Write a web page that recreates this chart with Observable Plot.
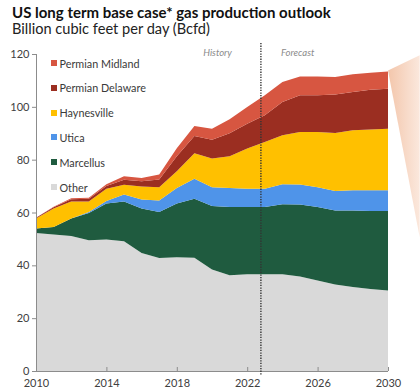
<!DOCTYPE html>
<html>
<head>
<meta charset="utf-8">
<script src="https://cdn.jsdelivr.net/npm/d3@7"></script>
<script src="https://cdn.jsdelivr.net/npm/@observablehq/plot@0.6"></script>
<style>
  body { margin: 0; background: #fff; font-family: Lato, "Open Sans", sans-serif; }
  #wrap { position: relative; width: 420px; height: 392px; overflow: hidden; }
  #title { position: absolute; left: 12px; top: 3px; font-weight: 700; font-size: 15px; color: #111; white-space: nowrap; }
  #subtitle { position: absolute; left: 12px; top: 20px; font-size: 14.6px; color: #222; white-space: nowrap; }
  #chart { position: absolute; left: 0; top: 38px; }
  .item { position: absolute; left: 51px; height: 12px; display: flex; align-items: center; font-size: 10.8px; color: #3a3a3a; white-space: nowrap; }
  .item span.sw { width: 6px; height: 6px; margin-right: 2.5px; display: inline-block; }
</style>
</head>
<body>
<div id="wrap">
  <div id="title">US long term base case* gas production outlook</div>
  <div id="subtitle">Billion cubic feet per day (Bcfd)</div>
  <div id="chart"></div>
  <div id="legend"></div>
</div>
<script>
// Annual gas production by basin, Bcfd (2010–2022 history, 2023–2030 forecast)
const years = [2010, 2011, 2012, 2013, 2014, 2015, 2016, 2017, 2018, 2019, 2020,
               2021, 2022, 2023, 2024, 2025, 2026, 2027, 2028, 2029, 2030];

const other      = [52.2, 51.7, 51.1, 49.5, 49.8, 49.1, 44.7, 42.8, 43.1, 42.9, 38.4,
                    36.2, 36.6, 36.6, 36.6, 35.8, 34.3, 32.7, 31.8, 31.0, 30.5];
const marcellus  = [1.7, 2.8, 6.6, 10.3, 13.6, 15.1, 16.8, 17.4, 20.3, 22.3, 24.1,
                    25.9, 25.5, 25.5, 26.5, 27.2, 27.8, 28.1, 29.0, 29.6, 30.1];
const utica      = [0.0, 0.0, 0.0, 0.4, 1.0, 2.6, 3.4, 4.3, 5.9, 7.6, 7.1,
                    7.2, 6.9, 6.9, 7.6, 7.6, 7.5, 7.3, 7.6, 7.8, 7.8];
const haynesville = [3.8, 7.0, 6.5, 4.0, 4.6, 3.7, 4.9, 5.1, 6.3, 9.6, 10.8,
                    12.0, 15.2, 17.7, 18.5, 19.9, 20.9, 22.0, 22.7, 23.0, 23.3];
const delaware   = [0.3, 0.5, 0.8, 1.0, 1.0, 1.9, 2.0, 2.9, 5.7, 6.6, 7.1,
                    8.7, 9.4, 10.1, 12.6, 13.9, 13.9, 14.6, 14.5, 15.1, 15.1];
const midland    = [0.0, 0.2, 0.4, 0.4, 0.7, 1.3, 1.3, 1.9, 3.0, 3.7, 4.2,
                    5.3, 6.3, 7.6, 7.6, 7.1, 7.1, 6.6, 6.7, 6.4, 6.6];

// stacked bottom to top
const seriesNames = ["Other", "Marcellus", "Utica", "Haynesville", "Permian Delaware", "Permian Midland"];
const seriesValues = [other, marcellus, utica, haynesville, delaware, midland];
const seriesColors = ["#d9d9d9", "#1f5b3f", "#4f94e9", "#ffc000", "#9b2e21", "#d75641"];

const yTicks = [0, 20, 40, 60, 80, 100, 120];
const xTicks = [2010, 2014, 2018, 2022, 2026, 2030];

// history / forecast boundary (late 2022)
const divider = 2022.75;

// wedge pointing to the detail panel on the right
const callout = [
  {x: 2030, y1: 113.8, y2: 113.8},
  {x: 2031.8, y1: 50.6, y2: 119.5}
];

const rows = [];
seriesNames.forEach((name, i) => {
  years.forEach((yr, j) => rows.push({year: yr, basin: name, value: seriesValues[i][j]}));
});

const defs = () => {
  const svgNS = "http://www.w3.org/2000/svg";
  const d = document.createElementNS(svgNS, "defs");
  d.innerHTML = `<linearGradient id="wedge" x1="0" x2="1" y1="0" y2="0">
      <stop offset="0" stop-color="#f3c6ab"/>
      <stop offset="1" stop-color="#fbe8dd"/>
    </linearGradient>`;
  return d;
};

const chart = Plot.plot({
  width: 420,
  height: 354,
  marginLeft: 36,
  marginRight: 32,
  marginTop: 16,
  marginBottom: 21,
  style: {fontFamily: "Lato, 'Open Sans', sans-serif", fontSize: "11px", color: "#404040", overflow: "visible"},
  x: {domain: [2010, 2030]},
  y: {domain: [0, 120]},
  color: {domain: seriesNames, range: seriesColors},
  marks: [
    defs,
    Plot.areaY(callout, {x: "x", y1: "y1", y2: "y2", fill: "url(#wedge)"}),
    Plot.areaY(rows, {x: "year", y: "value", z: "basin", fill: "basin", order: seriesNames}),
    Plot.ruleY([0], {stroke: "#8c8c8c", strokeWidth: 1}),
    Plot.ruleX([2010], {stroke: "#8c8c8c", strokeWidth: 1}),
    Plot.axisY({ticks: yTicks, tickSize: 4, tickPadding: 3, stroke: "#8c8c8c", label: null, fill: "#404040"}),
    Plot.axisX({ticks: xTicks, tickSize: -4, tickPadding: 12, tickFormat: d => String(d), stroke: "#8c8c8c", label: null, fill: "#404040"}),
    Plot.ruleX([divider], {stroke: "#333", strokeWidth: 1.4, strokeDasharray: "1.3,1.3", insetTop: -11, insetBottom: -4}),
    Plot.text([divider], {x: d => d, frameAnchor: "top", dy: -5, dx: -29, textAnchor: "end", text: () => "History", fontStyle: "italic", fill: "#8a8a8a", fontSize: 9.5}),
    Plot.text([divider], {x: d => d, frameAnchor: "top", dy: -5, dx: 20, textAnchor: "start", text: () => "Forecast", fontStyle: "italic", fill: "#8a8a8a", fontSize: 9.5})
  ]
});
document.getElementById("chart").append(chart);

// legend, top entry first
const legend = document.getElementById("legend");
const legendTop = 57;
const legendStep = 24.8;
seriesNames.slice().reverse().forEach((name, k) => {
  const color = seriesColors[seriesNames.indexOf(name)];
  const el = document.createElement("div");
  el.className = "item";
  el.style.top = (legendTop + k * legendStep) + "px";
  el.innerHTML = `<span class="sw" style="background:${color}"></span>${name}`;
  legend.append(el);
});
</script>
</body>
</html>
